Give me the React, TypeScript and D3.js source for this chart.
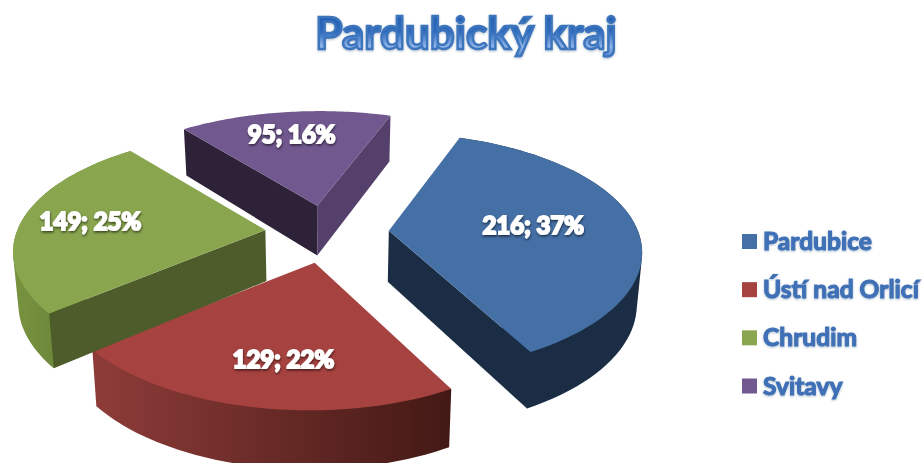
import React from "react";
import * as d3 from "d3";

const categories = ["Pardubice", "Ústí nad Orlicí", "Chrudim", "Svitavy"];
const values = [216, 129, 149, 95];
const title = "Pardubický kraj";

const topColors = ["#4570a6", "#a6423f", "#89a54e", "#71588f"];
// only the walls that face the viewer get a colour
const startWallColors = [null, null, "#4d5c2a", "#2d2238"];
const endWallColors = ["#1a2d44", null, null, "#54406a"];
const rimColors = ["#1a2d44", "url(#rimRed)", "url(#rimGreen)", null];
const labelRadius = [0.59, 0.69, 0.72, 0.73];
const labelAlong = [0.5, 0.47, 0.5, 0.5];
const rimShift = [0, -5, 1, 2.5];

const width = 922;
const height = 463;

// perspective ellipse fitted to the picture
const cx = 327;
const cy = 233;
const rx = 249;
const ry = 116;
const persp = 0.184;
const explode = 0.25;
const firstAngle = (19.5 * Math.PI) / 180;

type Pt = [number, number];

const project = (angle: number, r: number): Pt => {
  const w = 1 + persp * r * Math.cos(angle);
  return [(rx * r * Math.sin(angle)) / w, (-ry * r * Math.cos(angle)) / w];
};

// side walls go down and slightly toward the middle
const extrude = ([x, y]: Pt): Pt => [cx + (x - cx) * 0.983, y + 51 + (y - 230) * 0.045];

const pie = d3
  .pie<number>()
  .sort(null)
  .startAngle(firstAngle)
  .endAngle(firstAngle + Math.PI * 2);

const arcs = pie(values);
const total = d3.sum(values);
const line = d3.line<Pt>();

const slices = arcs.map((a, i) => {
  const span = a.endAngle - a.startAngle;
  const mid = a.startAngle + span / 2;
  const [ox, oy] = project(mid, explode);
  const apex: Pt = [cx + ox, cy + oy];
  // slices pulled toward the viewer open up a little in y
  const near = 1 / (1 + persp * 0.8 * explode * Math.cos(mid));
  const rim: Pt[] = d3.range(0, 61).map((k) => {
    const [x, y] = project(a.startAngle + (span * k) / 60, 1);
    return [apex[0] + x + rimShift[i], apex[1] + y * near];
  });
  const [lx, ly] = project(a.startAngle + span * labelAlong[i], 1);
  return {
    i,
    apex,
    rim,
    label: [apex[0] + lx * labelRadius[i], apex[1] + ly * labelRadius[i]] as Pt,
    text: `${values[i]}; ${Math.round((values[i] / total) * 100)}%`,
  };
});

const quad = (p: Pt, q: Pt) => line([p, q, extrude(q), extrude(p)]) + "Z";

const legendY = d3.scalePoint<string>().domain(categories).range([241.5, 386]);

const drawOrder = [3, 0, 1, 2];

export default function App() {
  return (
    <svg
      width={width}
      height={height}
      style={{ position: "absolute", left: 0, top: 0, background: "#fff" }}
    >
      <defs>
        <linearGradient id="rimRed" gradientUnits="userSpaceOnUse" x1={93} x2={451} y1={0} y2={0}>
          <stop offset="0" stopColor="#8e3c39" />
          <stop offset="1" stopColor="#431915" />
        </linearGradient>
        <linearGradient id="rimGreen" gradientUnits="userSpaceOnUse" x1={12} x2={55} y1={0} y2={0}>
          <stop offset="0" stopColor="#78933f" />
          <stop offset="1" stopColor="#6e883b" />
        </linearGradient>
        <linearGradient id="titleFill" x1="0" x2="0" y1="0" y2="1">
          <stop offset="0" stopColor="#1f5cac" />
          <stop offset="0.5" stopColor="#2f6bbd" />
          <stop offset="0.78" stopColor="#8fb6ea" />
          <stop offset="1" stopColor="#4e82c8" />
        </linearGradient>
        <filter id="shadow" x="-10%" y="-20%" width="120%" height="150%">
          <feDropShadow dx="0.5" dy="1.5" stdDeviation="1.2" floodColor="#000" floodOpacity="0.6" />
        </filter>
        <filter id="soft" x="-10%" y="-20%" width="120%" height="150%">
          <feDropShadow dx="0" dy="1" stdDeviation="1" floodColor="#1f3f70" floodOpacity="0.35" />
        </filter>
      </defs>

      <text
        x={466}
        y={49}
        textAnchor="middle"
        fontFamily="Lato"
        fontWeight={700}
        fontSize={44}
        fill="url(#titleFill)"
        stroke="#3d74bd"
        strokeWidth={2.4}
        filter="url(#soft)"
      >
        {title}
      </text>

      {drawOrder.map((idx) => {
        const s = slices[idx];
        const first = s.rim[0];
        const last = s.rim[s.rim.length - 1];
        const hull = d3.polygonHull([...s.rim, ...s.rim.map(extrude)]) as Pt[];
        return (
          <g key={categories[idx]}>
            {rimColors[idx] && <path d={line(hull) + "Z"} fill={rimColors[idx]!} />}
            {startWallColors[idx] && <path d={quad(s.apex, first)} fill={startWallColors[idx]!} />}
            {endWallColors[idx] && <path d={quad(s.apex, last)} fill={endWallColors[idx]!} />}
            <path d={line([s.apex, ...s.rim]) + "Z"} fill={topColors[idx]} />
          </g>
        );
      })}

      {slices.map((s) => (
        <text
          key={s.text}
          x={s.label[0]}
          y={s.label[1]}
          dy="0.35em"
          textAnchor="middle"
          fontFamily="Lato"
          fontWeight={700}
          fontSize={24}
          fill="#fff"
          stroke="#fff"
          strokeWidth={2}
          filter="url(#shadow)"
        >
          {s.text}
        </text>
      ))}

      {categories.map((c, i) => (
        <g key={c} transform={`translate(0,${legendY(c)})`}>
          <rect x={742} y={-7.5} width={15} height={15} fill={topColors[i]} />
          <text
            x={763}
            dy="0.35em"
            fontFamily="Lato"
            fontWeight={700}
            fontSize={24.6}
            fill="#3f70b6"
            stroke="#3f70b6"
            strokeWidth={1.1}
            filter="url(#soft)"
          >
            {c}
          </text>
        </g>
      ))}
    </svg>
  );
}
